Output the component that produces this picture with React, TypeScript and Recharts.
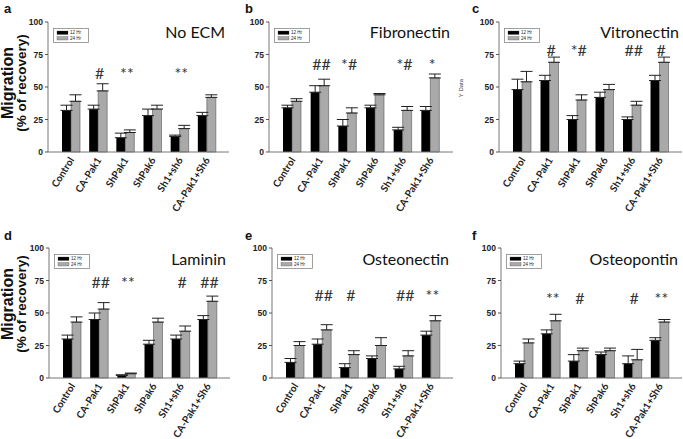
import React from "react";
import { ComposedChart, Bar, ErrorBar, XAxis, YAxis, Scatter, Legend } from "recharts";

const groups = ["Control", "CA-Pak1", "ShPak1", "ShPak6", "Sh1+sh6", "CA-Pak1+Sh6"];
const yTicks = [0, 25, 50, 75, 100];

// a - No ECM
const noEcm12 = [32, 33, 11, 28, 12, 28];
const noEcm12Err = [4, 3, 3.5, 5, 1, 2.5];
const noEcm24 = [39, 47, 15, 33, 18, 42];
const noEcm24Err = [5, 5.5, 2, 3, 2.5, 2];
const noEcmSig = ["", "#", "**", "", "**", ""];

// b - Fibronectin
const fib12 = [34, 46, 20, 34, 17, 32];
const fib12Err = [2, 5, 5, 2, 2, 3];
const fib24 = [39, 51, 30, 44, 32, 57];
const fib24Err = [2, 5, 4, 1, 3, 3];
const fibSig = ["", "##", "*#", "", "*#", "*"];

// c - Vitronectin
const vit12 = [48, 55, 25, 42, 25, 55];
const vit12Err = [8, 4, 3, 4, 2, 4];
const vit24 = [54, 69, 40, 48, 36, 69];
const vit24Err = [8, 4, 4, 4, 3, 4];
const vitSig = ["", "#", "*#", "", "##", "#"];

// d - Laminin
const lam12 = [30, 45, 2, 26, 30, 45];
const lam12Err = [3, 5, 0.5, 3, 3, 3];
const lam24 = [43, 53, 3.3, 43, 36, 59];
const lam24Err = [4, 5, 0.5, 3, 4, 4];
const lamSig = ["", "##", "**", "", "#", "##"];

// e - Osteonectin
const ostn12 = [12, 26, 8, 15, 7, 33];
const ostn12Err = [3, 4, 3, 2, 2, 3];
const ostn24 = [25, 37, 18, 25, 17, 44];
const ostn24Err = [3, 4, 3, 6, 4, 4];
const ostnSig = ["", "##", "#", "", "##", "**"];

// f - Osteopontin
const ostp12 = [11, 34, 13, 18, 11, 29];
const ostp12Err = [2, 3, 5, 2, 6, 2];
const ostp24 = [27, 44, 21, 21, 14, 43];
const ostp24Err = [3, 5, 2, 2, 8, 2];
const ostpSig = ["", "**", "#", "", "#", "**"];

const FRAME = "#777";
const GRAY = "#a9a9a9";

const GroupTick = (props: any) => {
  const { x, y, payload } = props;
  const ax = x + 4;
  const ay = y + 6;
  return (
    <text
      x={ax}
      y={ay}
      transform={`rotate(-58, ${ax}, ${ay})`}
      textAnchor="end"
      fontFamily="Lato"
      fontWeight={700}
      fontSize={10}
      fill="#222"
    >
      {payload.value}
    </text>
  );
};

const SigMark = (props: any) => {
  const { cx, cy, payload } = props;
  if (!payload || !payload.sig) return <g />;
  return (
    <text x={cx + 2} y={cy} textAnchor="middle" dominantBaseline="central" fontFamily="Lato" fontSize={16} fill="#333">
      {payload.sig}
    </text>
  );
};

const LegendBox = (props: any) => {
  const items = (props.payload || []).filter((it: any) => it.type !== "none" && it.dataKey !== "sigY");
  return (
    <svg width={38} height={17} style={{ display: "block", overflow: "visible" }}>
      <rect x={0.5} y={0.5} width={35} height={14} fill="#fff" stroke="#888" strokeWidth={0.8} />
      {items.map((it: any, i: number) => (
        <g key={i}>
          <rect x={4} y={3 + i * 5.5} width={11} height={3.5} fill={it.color} stroke="#444" strokeWidth={0.3} />
          <text x={17} y={6.4 + i * 5.5} fontSize={4.5} fontFamily="Liberation Sans" fill="#222">
            {it.value}
          </text>
        </g>
      ))}
    </svg>
  );
};

type PanelProps = {
  v12: number[];
  e12: number[];
  v24: number[];
  e24: number[];
  sig: string[];
  sigLevel: number;
  plotLeft: number;
  plotTop: number;
  plotW: number;
};

const PLOT_H = 130;

function Panel({ v12, e12, v24, e24, sig, sigLevel, plotLeft, plotTop, plotW }: PanelProps) {
  const rows = groups.map((g, i) => ({
    name: g,
    h12: v12[i],
    err12: [0, e12[i]],
    h24: v24[i],
    err24: [0, e24[i]],
    sig: sig[i],
    sigY: sigLevel,
  }));
  const width = 48 + plotW + 1;
  const height = 10 + PLOT_H + 80;
  return (
    <div style={{ position: "absolute", left: plotLeft - 48, top: plotTop - 10 }}>
      <ComposedChart
        width={width}
        height={height}
        data={rows}
        margin={{ top: 10, right: 1, left: 0, bottom: 0 }}
        barGap={0}
      >
        <XAxis
          dataKey="name"
          height={80}
          padding={{ left: 9, right: 9 }}
          tick={<GroupTick />}
          tickLine={false}
          tickSize={2}
          tickMargin={0}
          interval={0}
          axisLine={{ stroke: FRAME }}
        />
        <XAxis
          xAxisId="top"
          dataKey="name"
          orientation="top"
          height={0}
          tick={false}
          tickLine={false}
          axisLine={{ stroke: FRAME }}
        />
        <YAxis
          width={48}
          domain={[0, 100]}
          ticks={yTicks}
          tickSize={3}
          tickMargin={2}
          tickLine={{ stroke: "#555" }}
          axisLine={{ stroke: FRAME }}
          tick={{ fontSize: 8.5, fontWeight: 700, fill: "#222", fontFamily: "Liberation Sans" }}
        />
        <YAxis
          yAxisId="right"
          orientation="right"
          width={0}
          domain={[0, 100]}
          tick={false}
          tickLine={false}
          axisLine={{ stroke: FRAME }}
        />
        <Legend
          layout="vertical"
          align="center"
          verticalAlign="middle"
          content={<LegendBox />}
          wrapperStyle={{ left: 53, top: 16, width: 38, height: 17 }}
        />
        <Bar dataKey="h12" name="12 Hr" fill="#000" barSize={9} isAnimationActive={false}>
          <ErrorBar dataKey="err12" direction="y" width={6} stroke="#222" strokeWidth={1} />
        </Bar>
        <Bar dataKey="h24" name="24 Hr" fill={GRAY} stroke="#555" strokeWidth={0.6} barSize={9} isAnimationActive={false}>
          <ErrorBar dataKey="err24" direction="y" width={6} stroke="#222" strokeWidth={1} />
        </Bar>
        <Scatter dataKey="sigY" shape={<SigMark />} legendType="none" isAnimationActive={false} />
      </ComposedChart>
    </div>
  );
}

const titleStyle = { fontFamily: "Lato", fontSize: 16, fill: "#111" } as const;
const letterStyle = { fontFamily: "Liberation Sans", fontWeight: 700, fontSize: 13, fill: "#111" } as const;

function YTitle({ cy }: { cy: number }) {
  return (
    <g fontFamily="Liberation Sans" fontWeight={700} fill="#111">
      <text x={7.5} y={cy} transform={`rotate(-90, 7.5, ${cy})`} textAnchor="middle" dominantBaseline="central" fontSize={16}>
        Migration
      </text>
      <text x={21} y={cy} transform={`rotate(-90, 21, ${cy})`} textAnchor="middle" dominantBaseline="central" fontSize={13.5}>
        (% of recovery)
      </text>
    </g>
  );
}

export default function App() {
  return (
    <div style={{ position: "absolute", left: 0, top: 0, width: 683, height: 439, background: "#fff", overflow: "hidden" }}>
      <Panel v12={noEcm12} e12={noEcm12Err} v24={noEcm24} e24={noEcm24Err} sig={noEcmSig} sigLevel={61} plotLeft={48} plotTop={22} plotW={181} />
      <Panel v12={fib12} e12={fib12Err} v24={fib24} e24={fib24Err} sig={fibSig} sigLevel={68} plotLeft={269} plotTop={22} plotW={184} />
      <Panel v12={vit12} e12={vit12Err} v24={vit24} e24={vit24Err} sig={vitSig} sigLevel={79} plotLeft={499} plotTop={22} plotW={183} />
      <Panel v12={lam12} e12={lam12Err} v24={lam24} e24={lam24Err} sig={lamSig} sigLevel={74} plotLeft={49} plotTop={248} plotW={181} />
      <Panel v12={ostn12} e12={ostn12Err} v24={ostn24} e24={ostn24Err} sig={ostnSig} sigLevel={64} plotLeft={272} plotTop={248} plotW={181} />
      <Panel v12={ostp12} e12={ostp12Err} v24={ostp24} e24={ostp24Err} sig={ostpSig} sigLevel={62} plotLeft={501} plotTop={248} plotW={181} />
      <svg width={683} height={439} style={{ position: "absolute", left: 0, top: 0, pointerEvents: "none" }}>
        <text x={4} y={13} {...letterStyle}>a</text>
        <text x={245} y={13} {...letterStyle}>b</text>
        <text x={472} y={13} {...letterStyle}>c</text>
        <text x={4} y={240} {...letterStyle}>d</text>
        <text x={245} y={240} {...letterStyle}>e</text>
        <text x={472} y={240} {...letterStyle}>f</text>
        <text x={225} y={38} textAnchor="end" {...titleStyle}>No ECM</text>
        <text x={450} y={38} textAnchor="end" {...titleStyle}>Fibronectin</text>
        <text x={679} y={38} textAnchor="end" {...titleStyle}>Vitronectin</text>
        <text x={226} y={265} textAnchor="end" {...titleStyle}>Laminin</text>
        <text x={449} y={265} textAnchor="end" {...titleStyle}>Osteonectin</text>
        <text x={678} y={265} textAnchor="end" {...titleStyle}>Osteopontin</text>
        <YTitle cy={83} />
        <YTitle cy={304} />
        <text x={461} y={88} transform="rotate(-90, 461, 88)" textAnchor="middle" dominantBaseline="central" fontFamily="Liberation Sans" fontSize={6} fill="#444">
          Y Data
        </text>
      </svg>
    </div>
  );
}
